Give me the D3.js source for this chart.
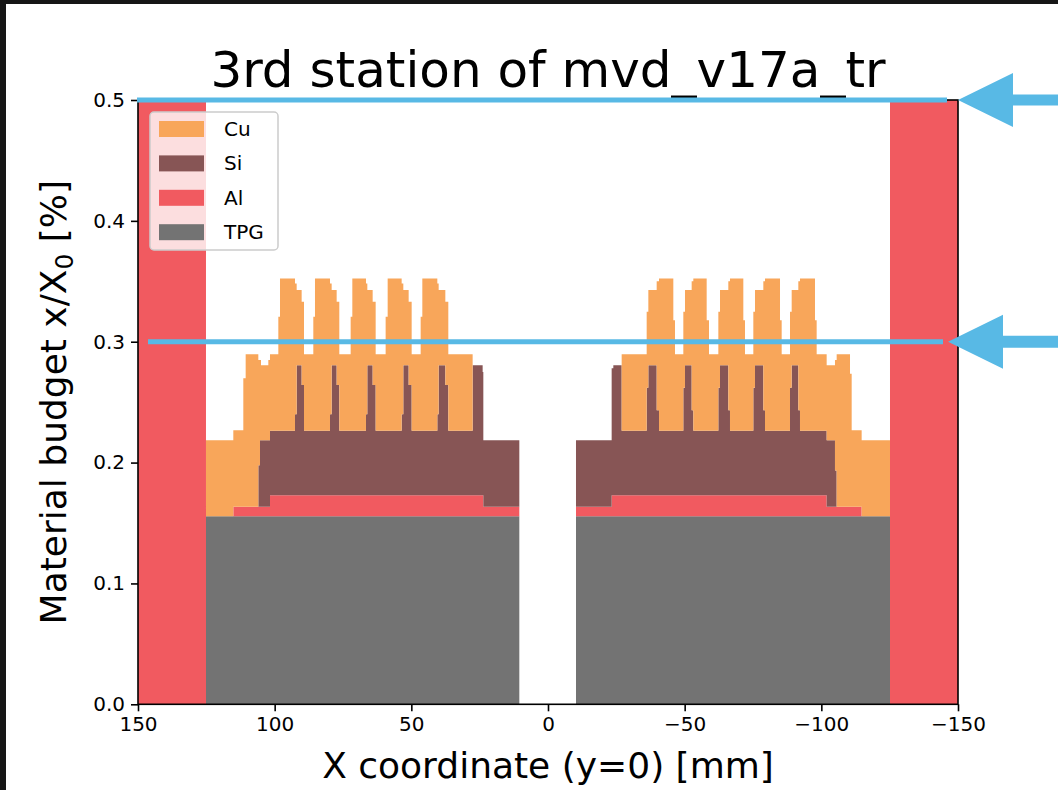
<!DOCTYPE html>
<html>
<head>
<meta charset="utf-8">
<script src="https://cdn.jsdelivr.net/npm/d3@7"></script>
<style>
  html, body { margin: 0; padding: 0; background: #161616; }
  svg { display: block; }
  text { font-family: "DejaVu Sans", sans-serif; fill: #000; }
</style>
</head>
<body>
<svg id="chart" width="1058" height="790"></svg>
<script>
// Bin edges along X (mm), scanned from +150 to -150 at y = 0
const binEdges = [
  150, 125.13, 115.13, 111.47, 110.61, 105.98, 105.37, 105.00, 102.32, 101.71, 98.66,
  98.05, 92.56, 91.95, 90.13, 89.27, 85.86,
  85.25, 79.76, 79.15, 77.32, 76.35, 72.20,
  71.59, 66.59, 66.10, 64.15, 63.05, 59.40,
  58.66, 53.54, 52.93, 50.98, 49.88, 46.59,
  45.98, 40.49, 40.00, 37.56, 36.47, 27.57,
  23.91, 23.66, 10.49, -10.24,
  -23.29, -23.90, -26.95, -36.10,
  -36.71, -39.76, -40.61, -45.85, -46.46, -49.51,
  -50.12, -52.56, -53.17, -58.05, -58.90, -62.32,
  -62.93, -65.97, -66.58, -71.46, -72.07, -75.12,
  -75.73, -78.78, -79.39, -84.88, -85.49, -88.54,
  -89.15, -91.58, -92.19, -97.68, -98.29, -101.95,
  -104.99, -105.61, -110.49, -111.10, -114.75, -125.12, -150
];

// Material budget per bin, x/X0 in %
const tpg = [
  0,
  0.1556, 0.1556, 0.1556, 0.1556, 0.1556, 0.1556, 0.1556, 0.1556, 0.1556,
  0.1556, 0.1556, 0.1556, 0.1556, 0.1556, 0.1556,
  0.1556, 0.1556, 0.1556, 0.1556, 0.1556, 0.1556,
  0.1556, 0.1556, 0.1556, 0.1556, 0.1556, 0.1556,
  0.1556, 0.1556, 0.1556, 0.1556, 0.1556, 0.1556,
  0.1556, 0.1556, 0.1556, 0.1556, 0.1556, 0.1556,
  0.1556, 0.1556, 0.1556,
  0,
  0.1556, 0.1556, 0.1556, 0.1556,
  0.1556, 0.1556, 0.1556, 0.1556, 0.1556, 0.1556,
  0.1556, 0.1556, 0.1556, 0.1556, 0.1556, 0.1556,
  0.1556, 0.1556, 0.1556, 0.1556, 0.1556, 0.1556,
  0.1556, 0.1556, 0.1556, 0.1556, 0.1556, 0.1556,
  0.1556, 0.1556, 0.1556, 0.1556, 0.1556, 0.1556,
  0.1556, 0.1556, 0.1556, 0.1556, 0.1556, 0.1556,
  0
];

const al = [
  0.75,
  0, 0.0078, 0.0078, 0.0078, 0.0078, 0.0078, 0.0078, 0.0078, 0.0174,
  0.0174, 0.0174, 0.0174, 0.0174, 0.0174, 0.0174,
  0.0174, 0.0174, 0.0174, 0.0174, 0.0174, 0.0174,
  0.0174, 0.0174, 0.0174, 0.0174, 0.0174, 0.0174,
  0.0174, 0.0174, 0.0174, 0.0174, 0.0174, 0.0174,
  0.0174, 0.0174, 0.0174, 0.0174, 0.0174, 0.0174,
  0.0174, 0.0174, 0.0078,
  0,
  0.0078, 0.0174, 0.0174, 0.0174,
  0.0174, 0.0174, 0.0174, 0.0174, 0.0174, 0.0174,
  0.0174, 0.0174, 0.0174, 0.0174, 0.0174, 0.0174,
  0.0174, 0.0174, 0.0174, 0.0174, 0.0174, 0.0174,
  0.0174, 0.0174, 0.0174, 0.0174, 0.0174, 0.0174,
  0.0174, 0.0174, 0.0174, 0.0174, 0.0174, 0.0174,
  0.0078, 0.0078, 0.0078, 0.0078, 0.0078, 0,
  0.75
];

const si = [
  0,
  0, 0, 0, 0, 0.0344, 0.0551, 0.0551, 0.0551, 0.0533,
  0.0533, 0.0533, 0.0670, 0.1076, 0.0912, 0.0533,
  0.0533, 0.0533, 0.0670, 0.1076, 0.0912, 0.0533,
  0.0533, 0.0533, 0.0670, 0.1076, 0.0912, 0.0533,
  0.0533, 0.0533, 0.0670, 0.1076, 0.0912, 0.0533,
  0.0533, 0.0533, 0.0670, 0.1076, 0.0912, 0.0533,
  0.1076, 0.1020, 0.0551,
  0,
  0.0551, 0.1050, 0.1076, 0.0533,
  0.0890, 0.1076, 0.0704, 0.0533, 0.0533, 0.0533,
  0.0890, 0.1076, 0.0704, 0.0533, 0.0533, 0.0533,
  0.0890, 0.1076, 0.0704, 0.0533, 0.0533, 0.0533,
  0.0890, 0.1076, 0.0704, 0.0533, 0.0533, 0.0533,
  0.0890, 0.1076, 0.0704, 0.0533, 0.0533, 0.0533,
  0.0551, 0.0300, 0, 0, 0, 0,
  0
];

const cu = [
  0,
  0.0629, 0.0634, 0.1063, 0.1263, 0.0870, 0.0663, 0.0621, 0.0663, 0.0634,
  0.0943, 0.1261, 0.1082, 0.0621, 0.0688, 0.0634,
  0.0943, 0.1261, 0.1082, 0.0621, 0.0688, 0.0634,
  0.0943, 0.1261, 0.1082, 0.0621, 0.0688, 0.0634,
  0.0943, 0.1261, 0.1082, 0.0621, 0.0688, 0.0634,
  0.0943, 0.1261, 0.1082, 0.0621, 0.0688, 0.0634,
  0, 0, 0,
  0,
  0, 0, 0, 0.0634,
  0.0628, 0.0621, 0.1066, 0.1261, 0.0915, 0.0634,
  0.0628, 0.0621, 0.1066, 0.1261, 0.0915, 0.0634,
  0.0628, 0.0621, 0.1066, 0.1261, 0.0915, 0.0634,
  0.0628, 0.0621, 0.1066, 0.1261, 0.0915, 0.0634,
  0.0628, 0.0621, 0.1066, 0.1261, 0.0915, 0.0634,
  0.0621, 0.0914, 0.1263, 0.1100, 0.0634, 0.0629,
  0
];

// Stacking order bottom → top, legend order top → bottom
const materials = ["TPG", "Al", "Si", "Cu"];
const legendOrder = ["Cu", "Si", "Al", "TPG"];
const colors = { Cu: "#f8a65a", Si: "#875555", Al: "#f15a60", TPG: "#737373" };

const xTicks = [150, 100, 50, 0, -50, -100, -150];
const yTicks = [0.0, 0.1, 0.2, 0.3, 0.4, 0.5];
const markerLevels = [0.5, 0.3];

const titleText = "3rd station of mvd_v17a_tr";
const xLabel = "X coordinate (y=0) [mm]";

// ---- layout ----
const svg = d3.select("#chart");
const W = 1058, H = 790;
const plot = { left: 138, right: 958, top: 100, bottom: 704.3 };

// white figure panel over the dark backdrop
svg.append("rect").attr("x", 0).attr("y", 0).attr("width", W).attr("height", H).attr("fill", "#161616");
svg.append("rect").attr("x", 6).attr("y", 4).attr("width", W - 6).attr("height", H - 4).attr("fill", "#ffffff");

const x = d3.scaleLinear().domain([150, -150]).range([plot.left, plot.right]);
const y = d3.scaleLinear().domain([0, 0.5]).range([plot.bottom, plot.top]);

// ---- stacked step histogram ----
const rows = tpg.map((_, i) => ({
  x0: binEdges[i], x1: binEdges[i + 1],
  TPG: tpg[i], Al: al[i], Si: si[i], Cu: cu[i]
}));
const series = d3.stack().keys(materials)(rows);

svg.append("defs").append("clipPath").attr("id", "plotClip")
  .append("rect")
  .attr("x", plot.left).attr("y", plot.top)
  .attr("width", plot.right - plot.left).attr("height", plot.bottom - plot.top);

const area = d3.area()
  .x(d => x(d.x))
  .y0(d => y(d.y0))
  .y1(d => y(d.y1));

const layers = svg.append("g").attr("clip-path", "url(#plotClip)");
series.forEach(s => {
  const pts = [];
  s.forEach((d, i) => {
    const r = rows[i];
    pts.push({ x: r.x0, y0: d[0], y1: d[1] });
    pts.push({ x: r.x1, y0: d[0], y1: d[1] });
  });
  layers.append("path")
    .attr("d", area(pts))
    .attr("fill", colors[s.key]);
});

// ---- axes ----
const fmtX = d => (d < 0 ? "\u2212" + Math.abs(d) : String(d));
const xAxis = d3.axisBottom(x).tickValues(xTicks).tickFormat(fmtX).tickSize(7).tickPadding(6);
const yAxis = d3.axisLeft(y).tickValues(yTicks).tickFormat(d3.format(".1f")).tickSize(7).tickPadding(6);

const gx = svg.append("g").attr("transform", `translate(0,${plot.bottom})`).call(xAxis);
const gy = svg.append("g").attr("transform", `translate(${plot.left},0)`).call(yAxis);
[gx, gy].forEach(g => {
  g.select(".domain").remove();
  g.selectAll(".tick line").attr("stroke", "#000").attr("stroke-width", 1.6);
  g.selectAll(".tick text")
    .style("font-family", "'DejaVu Sans', sans-serif")
    .style("font-size", "20px").attr("fill", "#000");
});

// frame
svg.append("rect")
  .attr("x", plot.left).attr("y", plot.top)
  .attr("width", plot.right - plot.left).attr("height", plot.bottom - plot.top)
  .attr("fill", "none").attr("stroke", "#000").attr("stroke-width", 1.6);

// ---- titles ----
svg.append("text")
  .attr("x", (plot.left + plot.right) / 2).attr("y", 87)
  .attr("text-anchor", "middle")
  .style("font-size", "50px")
  .text(titleText);

svg.append("text")
  .attr("x", (plot.left + plot.right) / 2).attr("y", 778)
  .attr("text-anchor", "middle")
  .style("font-size", "36px")
  .text(xLabel);

const yl = svg.append("text")
  .attr("transform", `translate(66,${(plot.top + plot.bottom) / 2}) rotate(-90)`)
  .attr("text-anchor", "middle")
  .style("font-size", "36px");
yl.append("tspan").text("Material budget x/X");
yl.append("tspan").attr("dy", 7).style("font-size", "25px").text("0");
yl.append("tspan").attr("dy", -7).text(" [%]");

// ---- legend ----
const lg = svg.append("g");
lg.append("rect")
  .attr("x", 150).attr("y", 112).attr("width", 128).attr("height", 138)
  .attr("rx", 4).attr("ry", 4)
  .attr("fill", "#ffffff").attr("fill-opacity", 0.8)
  .attr("stroke", "#cccccc").attr("stroke-width", 1.5);
legendOrder.forEach((k, i) => {
  const cy = 129 + i * 34.4;
  lg.append("rect").attr("x", 159).attr("y", cy - 8).attr("width", 45).attr("height", 16).attr("fill", colors[k]);
  lg.append("text").attr("x", 224).attr("y", cy + 7).style("font-size", "20px").text(k);
});

// ---- level markers with arrows ----
const blue = "#58b9e5";
const markers = [
  { level: markerLevels[0], from: 137, to: 947, tip: 958, head: 55, half: 27, shaft: 11 },
  { level: markerLevels[1], from: 148, to: 943, tip: 948, head: 55, half: 27, shaft: 12 }
];
markers.forEach(m => {
  const yy = y(m.level);
  svg.append("line")
    .attr("x1", m.from).attr("x2", m.to).attr("y1", yy).attr("y2", yy)
    .attr("stroke", blue).attr("stroke-width", 5);
  svg.append("path")
    .attr("d", `M${m.tip},${yy} L${m.tip + m.head},${yy - m.half} L${m.tip + m.head},${yy - m.shaft / 2} L${W},${yy - m.shaft / 2} L${W},${yy + m.shaft / 2} L${m.tip + m.head},${yy + m.shaft / 2} L${m.tip + m.head},${yy + m.half} Z`)
    .attr("fill", blue);
});
</script>
</body>
</html>
